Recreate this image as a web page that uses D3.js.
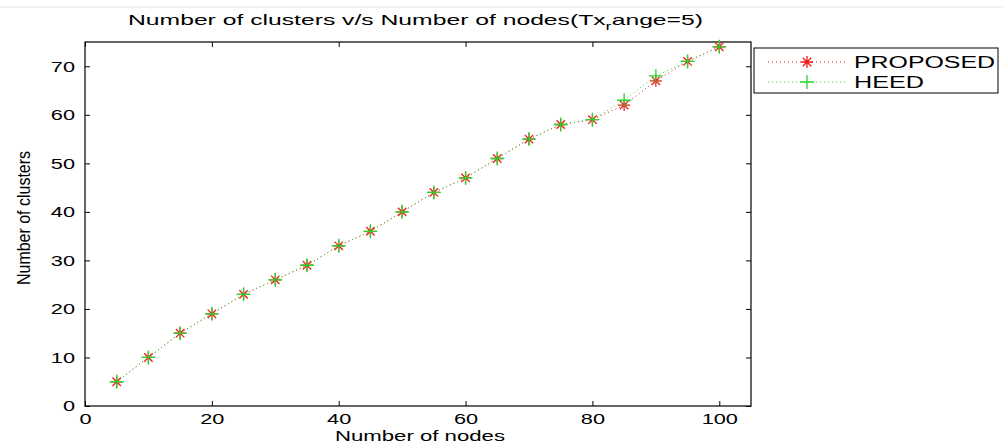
<!DOCTYPE html>
<html>
<head>
<meta charset="utf-8">
<script src="https://cdn.jsdelivr.net/npm/d3@7"></script>
<style>
  body { margin: 0; background: #fff; }
  text { font-family: "Liberation Sans", Arial, sans-serif; fill: #000; }
</style>
</head>
<body>
<div id="chart"></div>
<script>
// Data
const nodes = [5, 10, 15, 20, 25, 30, 35, 40, 45, 50, 55, 60, 65, 70, 75, 80, 85, 90, 95, 100];
const proposed = [5, 10, 15, 19, 23, 26, 29, 33, 36, 40, 44, 47, 51, 55, 58, 59, 62, 67, 71, 74];
const heed = [5, 10, 15, 19, 23, 26, 29, 33, 36, 40, 44, 47, 51, 55, 58, 59, 63, 68, 71, 74];
const xTicks = [0, 20, 40, 60, 80, 100];
const yTicks = [0, 10, 20, 30, 40, 50, 60, 70];
const seriesNames = ["PROPOSED", "HEED"];

const width = 1003, height = 444;
const margin = { left: 85, top: 42, right: 252, bottom: 38 };
const stretch = 1.45; // the original picture was stretched sideways

const svg = d3.select("#chart").append("svg")
    .attr("width", width)
    .attr("height", height);

// faint line along the top of the picture
svg.append("line")
    .attr("x1", 0).attr("x2", width).attr("y1", 7).attr("y2", 7)
    .attr("stroke", "#e6e6e6");

const x = d3.scaleLinear().domain([0, 105]).range([margin.left, width - margin.right]);
const y = d3.scaleLinear().domain([0, 75]).range([height - margin.bottom, margin.top]);

const x0 = x.range()[0], x1 = x.range()[1], y0 = y.range()[0], y1 = y.range()[1];

// axes: ticks inward on all four sides, like matlab
svg.append("g")
    .attr("transform", `translate(0,${y0})`)
    .call(d3.axisBottom(x).tickValues(xTicks).tickSizeInner(-5).tickSizeOuter(0).tickPadding(7))
    .call(g => g.select(".domain").remove())
    .call(g => g.selectAll("text")
        .attr("font-size", 15)
        .attr("transform", `scale(${stretch},1)`));

svg.append("g")
    .attr("transform", `translate(0,${y1})`)
    .call(d3.axisTop(x).tickValues(xTicks).tickSizeInner(-5).tickSizeOuter(0).tickFormat(""))
    .call(g => g.select(".domain").remove());

svg.append("g")
    .attr("transform", `translate(${x0},0)`)
    .call(d3.axisLeft(y).tickValues(yTicks).tickSizeInner(-5).tickSizeOuter(0).tickPadding(10))
    .call(g => g.select(".domain").remove())
    .call(g => g.selectAll("text")
        .attr("font-size", 15)
        .attr("x", -10 / stretch)
        .attr("transform", `scale(${stretch},1)`));

svg.append("g")
    .attr("transform", `translate(${x1},0)`)
    .call(d3.axisRight(y).tickValues(yTicks).tickSizeInner(-5).tickSizeOuter(0).tickFormat(""))
    .call(g => g.select(".domain").remove());

svg.append("rect")
    .attr("x", x0).attr("y", y1)
    .attr("width", x1 - x0).attr("height", y0 - y1)
    .attr("fill", "none").attr("stroke", "#000").attr("stroke-width", 1.2);

// marker shapes
const star = s => `M${-s},0H${s}M0,${-s}V${s}M${-s * 0.7},${-s * 0.7}L${s * 0.7},${s * 0.7}M${-s * 0.7},${s * 0.7}L${s * 0.7},${-s * 0.7}`;
const plus = s => `M${-s},0H${s}M0,${-s}V${s}`;

const series = [
    { name: seriesNames[0], values: proposed, color: "#ee1c1c", marker: star, size: 6 },
    { name: seriesNames[1], values: heed, color: "#2ad52a", marker: plus, size: 7 }
];

const line = d3.line().x((d, i) => x(nodes[i])).y(d => y(d));

series.forEach(s => {
    svg.append("path")
        .attr("d", line(s.values))
        .attr("fill", "none")
        .attr("stroke", s.color)
        .attr("stroke-width", 1)
        .attr("stroke-dasharray", "1,3");
    svg.selectAll(null)
        .data(s.values)
        .join("path")
        .attr("transform", (d, i) => `translate(${x(nodes[i])},${y(d)})`)
        .attr("d", s.marker(s.size))
        .attr("fill", "none")
        .attr("stroke", s.color)
        .attr("stroke-width", 1.3);
});

// legend
const legend = svg.append("g").attr("transform", "translate(754,48)");
legend.append("rect")
    .attr("width", 244).attr("height", 45)
    .attr("fill", "#fff").attr("stroke", "#000").attr("stroke-width", 1);
series.forEach((s, i) => {
    const ly = 14 + i * 20;
    legend.append("line")
        .attr("x1", 14).attr("x2", 93).attr("y1", ly).attr("y2", ly)
        .attr("stroke", s.color).attr("stroke-dasharray", "1,3");
    legend.append("path")
        .attr("transform", `translate(53,${ly})`)
        .attr("d", s.marker(s.size))
        .attr("fill", "none").attr("stroke", s.color).attr("stroke-width", 1.3);
    legend.append("text")
        .attr("x", 100).attr("y", ly + 6)
        .attr("font-size", 16)
        .attr("textLength", i === 0 ? 141 : 70)
        .attr("lengthAdjust", "spacingAndGlyphs")
        .text(s.name);
});

// title and axis labels
const title = svg.append("text")
    .attr("x", 128).attr("y", 25)
    .attr("font-size", 15)
    .attr("textLength", 575)
    .attr("lengthAdjust", "spacingAndGlyphs");
title.append("tspan").text("Number of clusters v/s Number of nodes(Tx");
title.append("tspan").attr("font-size", 11).attr("dy", 5).text("r");
title.append("tspan").attr("dy", -5).text("ange=5)");

svg.append("text")
    .attr("x", 335).attr("y", 441)
    .attr("font-size", 15)
    .attr("textLength", 170)
    .attr("lengthAdjust", "spacingAndGlyphs")
    .text("Number of nodes");

svg.append("text")
    .attr("transform", `translate(30,218) scale(${stretch * 0.9},1) rotate(-90)`)
    .attr("text-anchor", "middle")
    .attr("font-size", 14)
    .attr("textLength", 134)
    .attr("lengthAdjust", "spacingAndGlyphs")
    .text("Number of clusters");
</script>
</body>
</html>
